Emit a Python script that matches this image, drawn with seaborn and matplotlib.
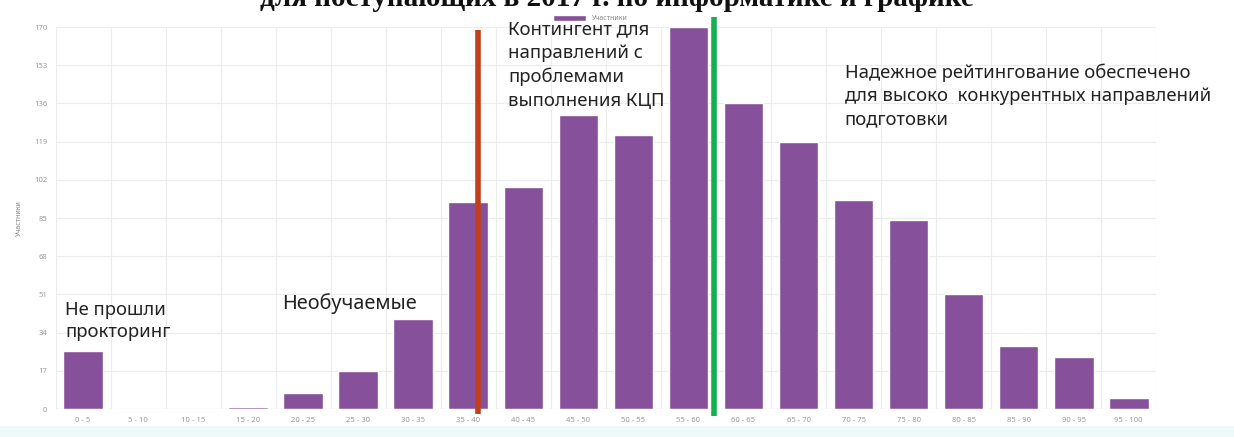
import matplotlib
matplotlib.use('Agg')

import matplotlib.pyplot as plt
import numpy as np
import pandas as pd
import seaborn as sns
from matplotlib.patches import Rectangle

# ------------------------------------------------------------
#     Data
# ------------------------------------------------------------

bins = [
    "0 - 5", "5 - 10", "10 - 15", "15 - 20", "20 - 25", "25 - 30", "30 - 35",
    "35 - 40", "40 - 45", "45 - 50", "50 - 55", "55 - 60", "60 - 65", "65 - 70",
    "70 - 75", "75 - 80", "80 - 85", "85 - 90", "90 - 95", "95 - 100",
]
counts = [26, 0, 0, 1, 7, 17, 40, 92, 99, 131, 122, 170, 136, 119, 93, 84, 51, 28, 23, 5]
yticks = [0, 17, 34, 51, 68, 85, 102, 119, 136, 153, 170]

# cut-off positions (in category units)
red_cut = 7.18
green_cut = 11.47

bar_color = "#87509a"

# ------------------------------------------------------------
#     Plot
# ------------------------------------------------------------

sns.set_theme(style="whitegrid")
plt.rcParams['font.family'] = ['Noto Sans', 'DejaVu Sans']

df = pd.DataFrame({"Оценка": bins, "Участники": counts})

fig = plt.figure(figsize=(12.34, 4.37), dpi=100)
# light band at the very bottom of the slide
fig.patches.append(Rectangle((0, 0), 1, 0.025, transform=fig.transFigure,
                             facecolor="#eefafa", edgecolor="none", zorder=0))

ax = fig.add_axes([0.045, 0.064, 0.892, 0.874])
ax.patch.set_alpha(0)

sns.barplot(data=df, x="Оценка", y="Участники", color=bar_color,
            width=0.72, saturation=1, ax=ax, label="Участники")

ax.set_xlim(-0.5, len(bins) - 0.5)
ax.set_ylim(0, 170)
ax.set_yticks(yticks)
ax.tick_params(axis='both', labelsize=5.5, colors="#999999", length=0, pad=6)

# grid: horizontal at ticks, vertical at category boundaries
ax.yaxis.grid(True, color="#ececec", linewidth=0.8)
ax.xaxis.grid(False)
for b in np.arange(-0.5, len(bins), 1.0):
    ax.axvline(b, color="#ececec", linewidth=0.8, zorder=0)
for s in ax.spines.values():
    s.set_visible(False)
ax.axhline(0, color="#dddddd", linewidth=0.8)

ax.set_xlabel("Оценка", fontsize=5, color="#888888", labelpad=4)
ax.set_ylabel("Участники", fontsize=5, color="#888888", labelpad=8)

leg = ax.legend(loc="lower center", bbox_to_anchor=(0.486, 1.0), frameon=False,
                fontsize=5, handlelength=4.7, handleheight=0.9, borderaxespad=0.3)
for t in leg.get_texts():
    t.set_color("#888888")

# cut-off lines
ax.plot([red_cut, red_cut], [-2, 168.7], color="#c0401c", linewidth=4,
        clip_on=False, solid_capstyle='butt', zorder=5)
ax.plot([green_cut, green_cut], [-3, 174.5], color="#12b04f", linewidth=4,
        clip_on=False, solid_capstyle='butt', zorder=5)

# annotations
txt = dict(color="#222222", va="top", ha="left")
ax.text(-0.33, 48, "Не прошли\nпрокторинг", fontsize=13.3, linespacing=1.3, **txt)
ax.text(3.62, 51.5, "Необучаемые", fontsize=14.3, **txt)
ax.text(7.72, 173, "Контингент для\nнаправлений с\nпроблемами\nвыполнения КЦП",
        fontsize=13.3, linespacing=1.4, **txt)
ax.text(13.84, 154, "Надежное рейтингование обеспечено\n"
        "для высоко  конкурентных направлений\nподготовки",
        fontsize=13.3, linespacing=1.4, **txt)

# title (cut off at the top of the picture, as in the slide)
fig.text(0.5, 0.986, "для поступающих в 2017 г. по информатике и графике",
         fontsize=21, fontweight="bold", family=["Liberation Serif"],
         ha="center", va="baseline", color="#111111")

plt.savefig("out.png", dpi=100)
